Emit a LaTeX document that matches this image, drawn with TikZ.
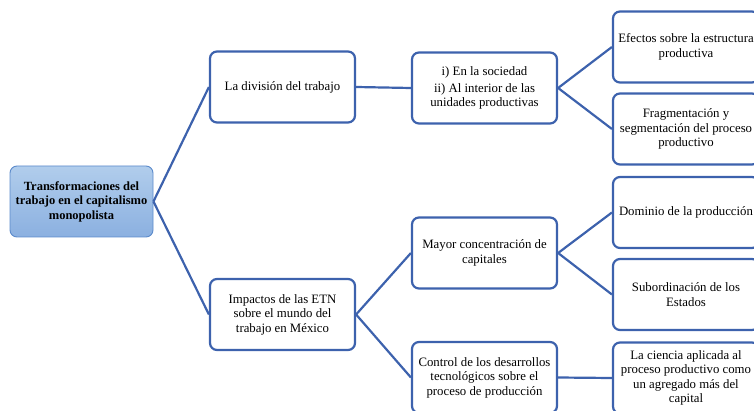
\documentclass[tikz,border=0pt]{standalone}
\usepackage{fontspec}
\setmainfont{Liberation Serif}
\definecolor{lineblue}{HTML}{3D62AD}
\definecolor{rootdraw}{HTML}{5B8ACB}
\definecolor{roottop}{HTML}{B1CDEC}
\definecolor{rootbot}{HTML}{8BB0E0}
\tikzset{
  box/.style={draw=lineblue, line width=2.2pt, rounded corners=7pt, fill=white,
    align=center, minimum width=145pt, minimum height=71pt, inner sep=1pt,
    font=\fontsize{12.8}{14.5}\selectfont},
  leaf/.style={box, minimum width=146pt},
  rootbox/.style={draw=rootdraw, line width=0.9pt, rounded corners=7pt,
    top color=roottop, bottom color=rootbot, align=center,
    minimum width=143pt, minimum height=71pt, inner sep=1pt,
    font=\fontsize{12.5}{14.5}\selectfont\bfseries},
  link/.style={draw=lineblue, line width=2.2pt}
}
\begin{document}
\begin{tikzpicture}[x=1pt,y=-1pt]
\useasboundingbox (0,0) rectangle (754,411);
\clip (0,0) rectangle (754,411);
\node[rootbox] (root) at (81.5,201.5) {Transformaciones del\\trabajo en el capitalismo\\monopolista};
\node[box] (A) at (282.5,87) {La división del trabajo};
\node[box] (B) at (282.5,314.5) {Impactos de las ETN\\sobre el mundo del\\trabajo en México};
\node[box] (C) at (484.5,88) {i) En la sociedad\\[2pt]ii) Al interior de las\\unidades productivas};
\node[box] (D) at (484.5,253) {Mayor concentración de\\capitales};
\node[box] (E) at (484.5,377.5) {Control de los desarrollos\\tecnológicos sobre el\\proceso de producción};
\node[leaf] (F) at (686,47) {Efectos sobre la estructura\\productiva};
\node[leaf] (G) at (686,129) {Fragmentación y\\segmentación del proceso\\productivo};
\node[leaf] (H) at (686,212.5) {Dominio de la producción};
\node[leaf] (I) at (686,294.5) {Subordinación de los\\Estados};
\node[leaf] (J) at (686,378) {La ciencia aplicada al\\proceso productivo como\\un agregado más del\\capital};
\draw[link] (root.east) -- (A.west);
\draw[link] (root.east) -- (B.west);
\draw[link] (A.east) -- (C.west);
\draw[link] (C.east) -- (F.west);
\draw[link] (C.east) -- (G.west);
\draw[link] (B.east) -- (D.west);
\draw[link] (B.east) -- (E.west);
\draw[link] (D.east) -- (H.west);
\draw[link] (D.east) -- (I.west);
\draw[link] (E.east) -- (J.west);
\end{tikzpicture}
\end{document}
